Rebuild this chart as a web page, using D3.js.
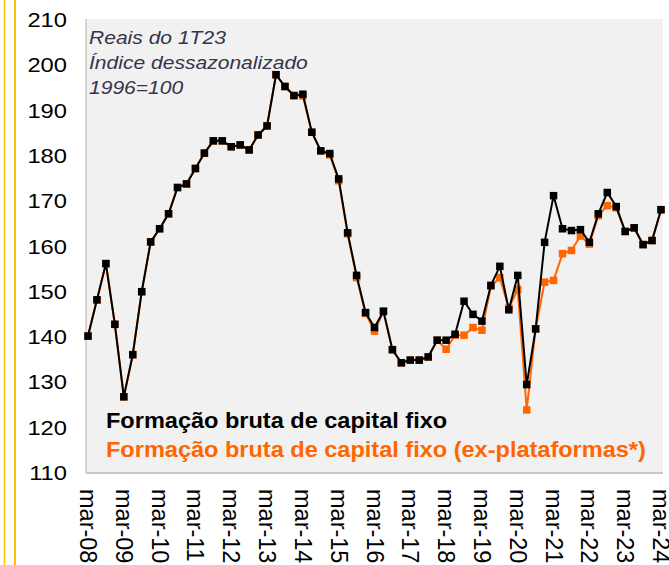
<!DOCTYPE html>
<html>
<head>
<meta charset="utf-8">
<script src="https://cdn.jsdelivr.net/npm/d3@7"></script>
<style>
  body { margin: 0; background: #fff; }
  svg { display: block; font-family: "Liberation Sans", Arial, sans-serif; }
</style>
</head>
<body>
<div id="chart"></div>
<script>
// FBCF quarterly index, mar-08 .. mar-24

var tickLabels = ["mar-08", "mar-09", "mar-10", "mar-11", "mar-12", "mar-13", "mar-14", "mar-15",
    "mar-16", "mar-17", "mar-18", "mar-19", "mar-20", "mar-21", "mar-22", "mar-23", "mar-24"];

var yTicks = [110, 120, 130, 140, 150, 160, 170, 180, 190, 200, 210];

var fbcf = [140.0, 148.0, 156.0, 142.6, 126.6, 135.9, 149.8, 160.8, 163.7, 167.0,
    172.8, 173.6, 177.0, 180.4, 183.1, 183.1, 181.8, 182.2, 181.1, 184.4,
    186.4, 197.7, 195.1, 193.1, 193.4, 185.0, 180.9, 180.3, 174.7, 162.8,
    153.4, 145.2, 141.9, 145.5, 137.0, 134.1, 134.7, 134.7, 135.4, 139.1,
    139.1, 140.4, 147.7, 144.8, 143.3, 151.2, 155.4, 145.8, 153.4, 129.3,
    141.6, 160.7, 171.0, 163.7, 163.3, 163.5, 160.7, 167.0, 171.7, 168.6,
    163.1, 163.9, 160.2, 161.1, 167.9];

var fbcfExPlat = [140.0, 148.0, 156.0, 142.6, 126.6, 135.9, 149.8, 160.8, 163.7, 167.0,
    172.8, 173.6, 177.0, 180.4, 183.1, 183.1, 181.8, 182.2, 181.1, 184.4,
    186.4, 197.7, 195.1, 193.1, 193.0, 185.0, 180.9, 180.0, 174.3, 162.6,
    152.9, 145.0, 141.1, 145.4, 137.0, 134.1, 134.7, 134.7, 135.4, 139.1,
    137.1, 140.2, 140.2, 141.9, 141.3, 151.0, 152.9, 146.2, 150.3, 123.7,
    141.6, 151.9, 152.3, 158.2, 158.9, 162.1, 160.3, 166.6, 168.8, 168.3,
    163.1, 163.9, 160.2, 161.1, 167.9];

var noteLines = ["Reais do 1T23", "Índice dessazonalizado", "1996=100"];
var legendLabels = ["Formação bruta de capital fixo", "Formação bruta de capital fixo (ex-plataformas*)"];

var W = 669, H = 565;
var plot = { left: 86, right: 663, top: 19, bottom: 473 };
var black = "#000000", orange = "#ff6600", gold = "#ffc000";

var svg = d3.select("#chart").append("svg")
    .attr("width", W)
    .attr("height", H);

// yellow rules on the left edge
svg.append("line").attr("x1", 4.5).attr("x2", 4.5).attr("y1", 0).attr("y2", H)
    .attr("stroke", gold).attr("stroke-width", 1.5);
svg.append("line").attr("x1", 15).attr("x2", 15).attr("y1", 0).attr("y2", H)
    .attr("stroke", gold).attr("stroke-width", 2);

// plot background
svg.append("rect")
    .attr("x", plot.left).attr("y", plot.top)
    .attr("width", plot.right - plot.left).attr("height", plot.bottom - plot.top)
    .attr("fill", "#f1f1f1");
svg.append("line").attr("x1", plot.left).attr("x2", plot.left)
    .attr("y1", plot.top).attr("y2", plot.bottom)
    .attr("stroke", "#c8c8c8").attr("stroke-width", 1.5);
svg.append("line").attr("x1", plot.left).attr("x2", plot.right)
    .attr("y1", plot.bottom).attr("y2", plot.bottom)
    .attr("stroke", "#c8c8c8").attr("stroke-width", 2);

var x = d3.scaleLinear().domain([0, fbcf.length - 1]).range([88, 661]);
var y = d3.scaleLinear().domain([110, 210]).range([472, 19]);

// y axis
var yAx = svg.append("g")
    .attr("transform", "translate(" + plot.left + ",0)")
    .call(d3.axisLeft(y).tickValues(yTicks).tickSize(0).tickFormat(d3.format("d")));
yAx.select(".domain").remove();
yAx.selectAll("text")
    .attr("x", 0)
    .attr("dy", "0.36em")
    .attr("transform", "translate(-19,0) scale(1.13,1)")
    .style("font-size", "21px")
    .style("font-family", "'Liberation Sans', Arial, sans-serif")
    .attr("fill", "#000");

// x axis
var xAx = svg.append("g")
    .attr("transform", "translate(0," + plot.bottom + ")")
    .call(d3.axisBottom(x)
        .tickValues(d3.range(0, fbcf.length, 4))
        .tickSize(0)
        .tickFormat(function(d, i) { return tickLabels[i]; }));
xAx.select(".domain").remove();
xAx.selectAll("text")
    .attr("x", 0).attr("y", 0)
    .attr("dy", "0.36em")
    .attr("text-anchor", "start")
    .attr("transform", "translate(0,16) rotate(90)")
    .style("font-size", "23.5px")
    .style("font-family", "'Liberation Sans', Arial, sans-serif")
    .attr("fill", "#000");

// note text
var note = svg.append("g").attr("transform", "translate(89,0) scale(1.17,1)");
note.selectAll("text")
    .data(noteLines)
  .enter().append("text")
    .attr("x", 0)
    .attr("y", function(d, i) { return 44.5 + i * 25; })
    .style("font-size", "18px")
    .style("font-style", "italic")
    .attr("fill", "#34344a")
    .text(function(d) { return d; });

// series
var line = d3.line()
    .x(function(d, i) { return x(i); })
    .y(function(d) { return y(d); });

function drawSeries(data, color) {
    var g = svg.append("g");
    g.append("path")
        .datum(data)
        .attr("d", line)
        .attr("fill", "none")
        .attr("stroke", color)
        .attr("stroke-width", 2);
    var s = 7.5;
    g.selectAll("rect")
        .data(data)
      .enter().append("rect")
        .attr("x", function(d, i) { return x(i) - s / 2; })
        .attr("y", function(d) { return y(d) - s / 2; })
        .attr("width", s)
        .attr("height", s)
        .attr("fill", color);
}

drawSeries(fbcfExPlat, orange);
drawSeries(fbcf, black);

// legend
var leg = svg.append("g").attr("transform", "translate(106,0) scale(1.07,1)");
leg.selectAll("text")
    .data(legendLabels)
  .enter().append("text")
    .attr("x", 0)
    .attr("y", function(d, i) { return 428 + i * 29; })
    .style("font-size", "22px")
    .style("font-weight", "bold")
    .attr("fill", function(d, i) { return i ? orange : black; })
    .text(function(d) { return d; });
</script>
</body>
</html>
